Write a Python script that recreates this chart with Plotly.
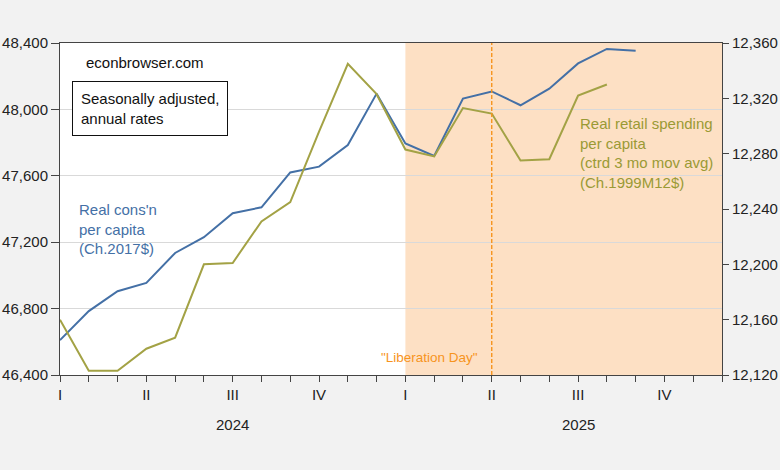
import plotly.graph_objects as go

months = [f"{y}-{m:02d}" for y in (2024, 2025) for m in range(1, 13)]

cons_months = months[:21]
cons_pc = [46610, 46785, 46905, 46955, 47135, 47230, 47375, 47410, 47620, 47655,
           47785, 48095, 47795, 47720, 48065, 48108, 48025, 48125, 48277, 48364, 48354]

retail_months = months[:20]
retail_pc = [12160, 12123, 12123, 12139, 12147, 12200, 12201, 12231, 12245, 12296,
             12345, 12323, 12283, 12278, 12313, 12309, 12275, 12276, 12322, 12330]

quarter_labels = {"01": "I", "04": "II", "07": "III", "10": "IV"}
tick_text = [quarter_labels.get(m[5:], "") for m in months]
years = ["2024", "2025"]

left_ticks = [46400, 46800, 47200, 47600, 48000, 48400]
right_ticks = [12120, 12160, 12200, 12240, 12280, 12320, 12360]

BLUE = "#4470a6"
OLIVE = "#a3a245"
ORANGE = "#f7941d"
FONT = "Liberation Sans, Arial, sans-serif"

fig = go.Figure()
fig.add_trace(go.Scatter(x=cons_months, y=cons_pc, mode="lines",
                         line=dict(color=BLUE, width=2), yaxis="y", showlegend=False))
fig.add_trace(go.Scatter(x=retail_months, y=retail_pc, mode="lines",
                         line=dict(color=OLIVE, width=2), yaxis="y2", showlegend=False))

i_start = months.index("2025-01")
i_lib = months.index("2025-04")
fig.add_shape(type="rect", xref="x", yref="paper", x0=i_start, x1=len(months) - 1,
              y0=0, y1=1, fillcolor="#fde0c4", line=dict(width=0), layer="below")
fig.add_shape(type="line", xref="x", yref="paper", x0=i_lib, x1=i_lib, y0=0, y1=1,
              line=dict(color=ORANGE, width=1.4, dash="4px,2px"), layer="above")

fig.update_layout(
    width=780, height=470,
    margin=dict(l=60, r=58, t=43, b=95),
    paper_bgcolor="#f2f2f2", plot_bgcolor="white",
    font=dict(family=FONT, size=15, color="#222"),
    xaxis=dict(type="category", categoryorder="array", categoryarray=months,
               range=[0, len(months) - 1], tickmode="array", tickvals=months,
               ticktext=tick_text, ticks="outside", ticklen=6, tickcolor="#444",
               showline=True, linecolor="#444", linewidth=1, mirror=True,
               showgrid=False, automargin=False, tickfont=dict(size=15, color="#222")),
    yaxis=dict(range=[46400, 48400], tickvals=left_ticks, tickformat=",",
               ticks="outside", ticklen=8, tickcolor="#444", showline=True,
               linecolor="#444", linewidth=1, showgrid=True, gridcolor="#d9d9d9",
               gridwidth=1, zeroline=False, automargin=False,
               tickfont=dict(size=15, color="#222")),
    yaxis2=dict(range=[12120, 12360], tickvals=right_ticks, tickformat=",",
                overlaying="y", side="right", ticks="outside", ticklen=6,
                tickcolor="#444", showline=True, linecolor="#444", linewidth=1,
                showgrid=False, zeroline=False, automargin=False,
                tickfont=dict(size=15, color="#222")),
)

for yr in years:
    fig.add_annotation(x=months.index(f"{yr}-07"), y=-0.1476, xref="x", yref="paper",
                       text=yr, showarrow=False, font=dict(size=15, color="#222"),
                       yanchor="middle")

fig.add_annotation(x=0.036, y=0.94, xref="paper", yref="paper", text="econbrowser.com",
                   showarrow=False, xanchor="left", yanchor="middle",
                   font=dict(size=15, color="#111"))
fig.add_annotation(x=0.018, y=0.8855, xref="paper", yref="paper",
                   text="Seasonally adjusted,<br>annual rates", showarrow=False,
                   xanchor="left", yanchor="top", align="left",
                   bordercolor="#111", borderwidth=1, borderpad=8, bgcolor="white",
                   font=dict(size=15, color="#111"))
fig.add_annotation(x=0.0257, y=0.44, xref="paper", yref="paper",
                   text="Real cons'n<br>per capita<br>(Ch.2017$)", showarrow=False,
                   xanchor="left", yanchor="middle", align="left",
                   font=dict(size=15, color=BLUE))
fig.add_annotation(x=0.7825, y=0.67, xref="paper", yref="paper",
                   text="Real retail spending<br>per capita<br>(ctrd 3 mo mov avg)<br>(Ch.1999M12$)",
                   showarrow=False, xanchor="left", yanchor="middle", align="left",
                   font=dict(size=15, color="#9a9a35"))
fig.add_annotation(x=i_lib - 0.4, y=0.054, xref="x", yref="paper",
                   text="\"Liberation Day\"", showarrow=False, xanchor="right",
                   yanchor="middle", font=dict(size=13.5, color=ORANGE))

fig.write_html("out.html", config={"displayModeBar": False},
               post_script="document.body.style.margin='0';document.body.style.background='#f2f2f2';")
